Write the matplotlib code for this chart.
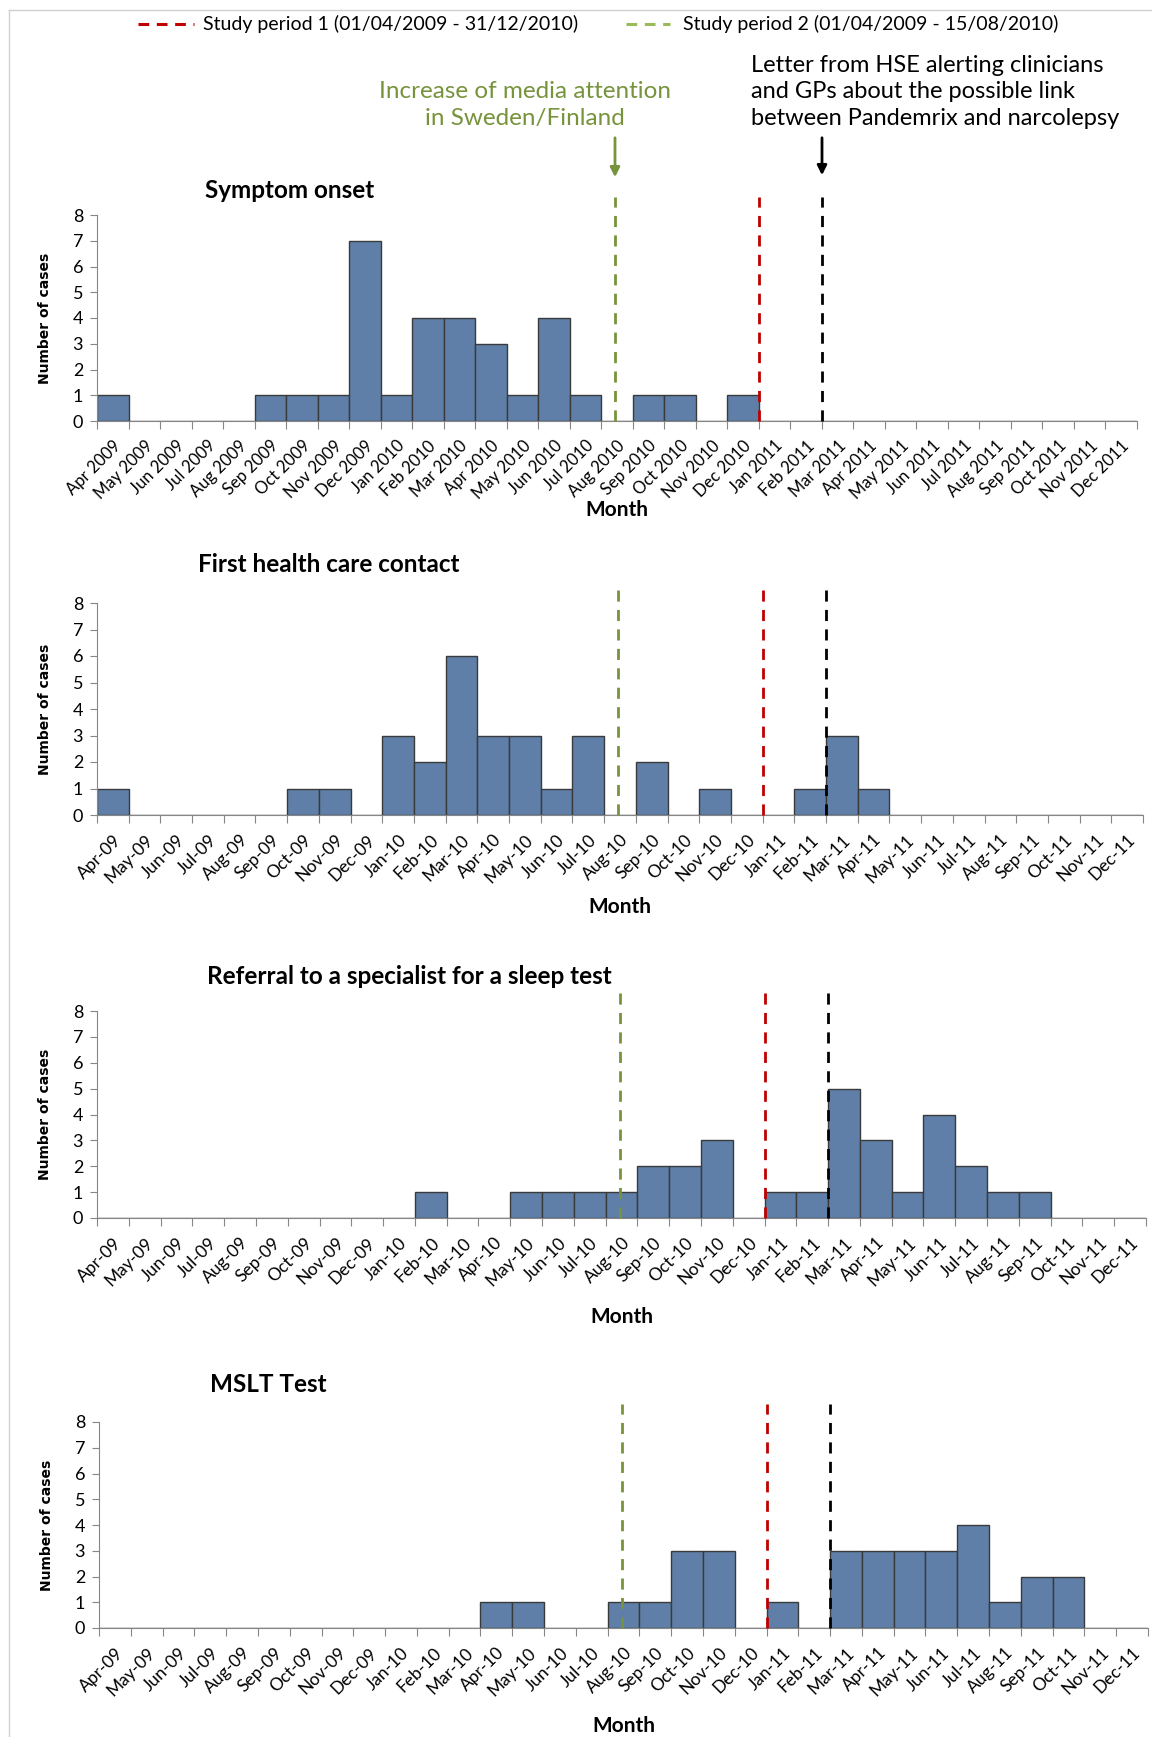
import numpy as np
import matplotlib
matplotlib.use("Agg")
import matplotlib.pyplot as plt
from matplotlib.lines import Line2D

plt.rcParams['font.family'] = ['Lato', 'DejaVu Sans']

# months Apr 2009 .. Dec 2011
long_labels = ['Apr 2009', 'May 2009', 'Jun 2009', 'Jul 2009', 'Aug 2009', 'Sep 2009', 'Oct 2009',
               'Nov 2009', 'Dec 2009', 'Jan 2010', 'Feb 2010', 'Mar 2010', 'Apr 2010', 'May 2010',
               'Jun 2010', 'Jul 2010', 'Aug 2010', 'Sep 2010', 'Oct 2010', 'Nov 2010', 'Dec 2010',
               'Jan 2011', 'Feb 2011', 'Mar 2011', 'Apr 2011', 'May 2011', 'Jun 2011', 'Jul 2011',
               'Aug 2011', 'Sep 2011', 'Oct 2011', 'Nov 2011', 'Dec 2011']
short_labels = ['Apr-09', 'May-09', 'Jun-09', 'Jul-09', 'Aug-09', 'Sep-09', 'Oct-09', 'Nov-09',
                'Dec-09', 'Jan-10', 'Feb-10', 'Mar-10', 'Apr-10', 'May-10', 'Jun-10', 'Jul-10',
                'Aug-10', 'Sep-10', 'Oct-10', 'Nov-10', 'Dec-10', 'Jan-11', 'Feb-11', 'Mar-11',
                'Apr-11', 'May-11', 'Jun-11', 'Jul-11', 'Aug-11', 'Sep-11', 'Oct-11', 'Nov-11',
                'Dec-11']

symptom_onset = [1, 0, 0, 0, 0, 1, 1, 1, 7, 1, 4, 4, 3, 1, 4, 1, 0, 1, 1, 0, 1,
                 0, 0, 0, 0, 0, 0, 0, 0, 0, 0, 0, 0]
first_contact = [1, 0, 0, 0, 0, 0, 1, 1, 0, 3, 2, 6, 3, 3, 1, 3, 0, 2, 0, 1, 0,
                 0, 1, 3, 1, 0, 0, 0, 0, 0, 0, 0, 0]
referral = [0, 0, 0, 0, 0, 0, 0, 0, 0, 0, 1, 0, 0, 1, 1, 1, 1, 2, 2, 3, 0,
            1, 1, 5, 3, 1, 4, 2, 1, 1, 0, 0, 0]
mslt = [0, 0, 0, 0, 0, 0, 0, 0, 0, 0, 0, 0, 1, 1, 0, 0, 1, 1, 3, 3, 0,
        1, 0, 3, 3, 3, 3, 4, 1, 2, 2, 0, 0]

# event dates as month offsets from 1 Apr 2009
media_date = 16.45     # mid Aug 2010
period1_end = 21.0     # 31 Dec 2010
hse_letter = 23.0      # start of Mar 2011

W, H = 1152, 1737
fig = plt.figure(figsize=(W / 100, H / 100), dpi=100)

def px_axes(x0, y_top, x1, y_bot):
    return fig.add_axes([x0 / W, 1 - y_bot / H, (x1 - x0) / W, (y_bot - y_top) / H])

bar_col = '#5F7FA9'
red = '#C00000'
green = '#77933C'

panels = [
    ('Symptom onset', symptom_onset, long_labels, 12, (97, 215, 1137, 421), (205, 191), 510),
    ('First health care contact', first_contact, short_labels, 12.5, (97, 603, 1143, 815), (198, 565), 907),
    ('Referral to a specialist for a sleep test', referral, short_labels, 12.5, (97, 1011, 1146, 1218), (207, 976), 1317),
    ('MSLT Test', mslt, short_labels, 12.5, (99, 1422, 1148, 1628), (210, 1385), 1726),
]

n = len(long_labels)
x = np.arange(n) + 0.5
for title, vals, labels, lsize, box, tpos, month_y in panels:
    ax = px_axes(*box)
    ax.bar(x, vals, width=1.0, color=bar_col, edgecolor='#3a3a3a', linewidth=1.0, zorder=2)
    ax.set_xlim(0, n)
    ax.set_ylim(0, 8)
    ax.set_yticks(range(9))
    ax.set_xticks(np.arange(n + 1))
    ax.set_xticklabels([])
    ax.set_xticks(x, minor=True)
    ax.set_xticklabels(labels, minor=True, rotation=45, ha='right', rotation_mode='anchor',
                       fontsize=lsize)
    ax.tick_params(axis='x', which='minor', length=0, pad=12)
    ax.tick_params(axis='x', which='major', length=6, color='#868686')
    ax.tick_params(axis='y', length=5, color='#868686', labelsize=13, pad=5)
    for s in ['top', 'right']:
        ax.spines[s].set_visible(False)
    for s in ['left', 'bottom']:
        ax.spines[s].set_color('#868686')
    ax.set_ylabel('Number of cases', family='DejaVu Sans', fontweight='bold', fontsize=10,
                  labelpad=15)
    ax.vlines(media_date, 0, 8.7, colors=green, linestyles=(0, (4, 3)), lw=2, clip_on=False, zorder=3)
    ax.vlines(period1_end, 0, 8.7, colors=red, linestyles=(0, (4, 3)), lw=2, clip_on=False, zorder=3)
    ax.vlines(hse_letter, 0, 8.7, colors='black', linestyles=(0, (4, 3)), lw=2, clip_on=False, zorder=3)
    fig.text(tpos[0] / W, 1 - tpos[1] / H, title, fontsize=17.5, fontweight='bold', va='center')
    fig.text((box[0] + box[2]) / 2 / W, 1 - month_y / H, 'Month', fontsize=15, fontweight='bold',
             ha='center', va='center')

# legend on top
for (xa, xb, xt, col, txt) in [(138, 194, 203, red, 'Study period 1 (01/04/2009 - 31/12/2010)'),
                              (626, 670, 683, '#9BBB59', 'Study period 2 (01/04/2009 - 15/08/2010)')]:
    fig.add_artist(Line2D([xa / W, xb / W], [1 - 24 / H, 1 - 24 / H], color=col, lw=2.2,
                          linestyle=(0, (3.5, 2.5))))
    fig.text(xt / W, 1 - 24 / H, txt, fontsize=14, va='center')

# annotations
fig.text(525 / W, 1 - 105 / H, 'Increase of media attention\nin Sweden/Finland', color=green,
         fontsize=17.5, ha='center', va='center', linespacing=1.35)
fig.text(751 / W, 1 - 92 / H, 'Letter from HSE alerting clinicians\nand GPs about the possible link\n'
         'between Pandemrix and narcolepsy', fontsize=17, ha='left', va='center', linespacing=1.35)
fig.add_artist(matplotlib.patches.FancyArrowPatch((615 / W, 1 - 135 / H), (615 / W, 1 - 180 / H),
               transform=fig.transFigure, arrowstyle='-|>', mutation_scale=14, color=green, lw=2))
fig.add_artist(matplotlib.patches.FancyArrowPatch((822 / W, 1 - 135 / H), (822 / W, 1 - 178 / H),
               transform=fig.transFigure, arrowstyle='-|>', mutation_scale=14, color='black', lw=2))

# outer frame
fig.add_artist(Line2D([9 / W, 9 / W], [0, 1 - 10 / H], color='#d0d0d0', lw=1))
fig.add_artist(Line2D([9 / W, 1], [1 - 10 / H, 1 - 10 / H], color='#d0d0d0', lw=1))

fig.savefig('out.png', dpi=100)
